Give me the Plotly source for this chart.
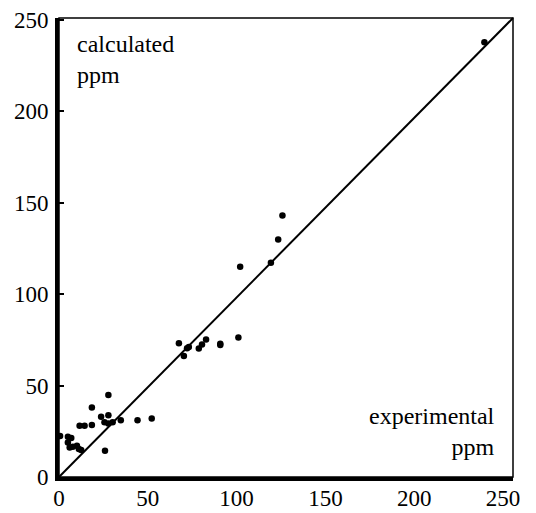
import plotly.graph_objects as go

experimental = [239.5, 125.8, 123.4, 119.3, 102.0, 101.0, 90.8, 90.8, 82.8, 80.5, 78.7,
                73.1, 72.1, 67.5, 70.3,
                27.8, 18.5, 23.7, 27.8, 18.5, 25.6, 27.8, 30.2, 34.8, 44.2, 52.2, 25.9,
                11.6, 14.4,
                5.0, 6.9, 5.0, 6.0, 7.8, 10.1, 11.2, 12.5, 0.6]
calculated = [237.8, 143.0, 129.9, 117.2, 115.0, 76.3, 72.9, 72.2, 75.2, 72.4, 70.3,
              71.1, 70.4, 73.1, 66.2,
              44.8, 38.0, 32.9, 33.8, 28.5, 29.9, 29.3, 29.9, 31.1, 31.1, 32.0, 14.4,
              28.0, 28.0,
              22.0, 21.3, 18.9, 16.2, 16.5, 17.1, 15.3, 14.7, 22.4]

tick_vals = [0, 50, 100, 150, 200, 250]
tick_text = ["0", "50", "100", "150", "200", "250"]

FONT = "Liberation Serif"

fig = go.Figure()
fig.add_trace(go.Scatter(
    x=experimental, y=calculated, mode="markers",
    marker=dict(color="black", size=6.5, line=dict(width=0)),
    showlegend=False, hoverinfo="skip"))

# diagonal of the box and thin top/right border
fig.add_shape(type="line", xref="paper", yref="paper", x0=0, y0=0, x1=1, y1=1,
              line=dict(color="black", width=2))
fig.add_shape(type="rect", xref="paper", yref="paper", x0=0, y0=0, x1=1, y1=1,
              line=dict(color="black", width=1.5))

fig.add_annotation(xref="paper", yref="paper", x=0.035, y=0.975, xanchor="left", yanchor="top",
                   text="calculated<br>ppm", showarrow=False, align="left",
                   font=dict(family=FONT, size=24, color="black"))
fig.add_annotation(xref="paper", yref="paper", x=0.965, y=0.032, xanchor="right", yanchor="bottom",
                   text="experimental<br>ppm", showarrow=False, align="right",
                   font=dict(family=FONT, size=24, color="black"))

axis_common = dict(showgrid=False, zeroline=False, showline=True, linecolor="black",
                   linewidth=4, automargin=False,
                   tickvals=tick_vals, ticktext=tick_text,
                   tickfont=dict(family=FONT, size=23, color="black"))

fig.update_xaxes(range=[0, 255.6], ticks="", ticklabelstandoff=-3, **axis_common)
fig.update_yaxes(range=[0, 251], ticks="inside", ticklen=5, tickwidth=1.5, tickcolor="black",
                 ticklabelstandoff=2, **axis_common)

fig.update_layout(width=536, height=513, margin=dict(l=59, r=23, t=18, b=36),
                  plot_bgcolor="white", paper_bgcolor="white",
                  font=dict(family=FONT, color="black"))

fig.write_html("out.html")
